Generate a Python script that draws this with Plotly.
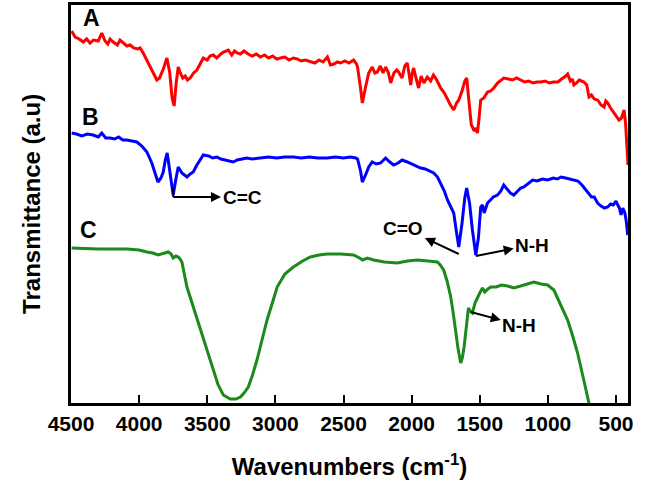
import plotly.graph_objects as go

# ---- data (wavenumber cm^-1, transmittance arbitrary units) ----
wn_A = [4495, 4470, 4440, 4410, 4385, 4360, 4335, 4300, 4274, 4250, 4230, 4213, 4190, 4160, 4140, 4110, 4090, 4066,
        4040, 4010, 3993, 3970, 3945, 3919, 3895, 3870, 3850, 3820, 3796, 3775, 3758, 3743, 3728, 3713, 3700, 3680,
        3662, 3645, 3625, 3600, 3576, 3550, 3529, 3500, 3480, 3456, 3430, 3400, 3380, 3346, 3320, 3300, 3280, 3257,
        3230, 3200, 3170, 3140, 3110, 3080, 3050, 3020, 2990, 2963, 2930, 2900, 2868, 2840, 2810, 2780, 2743, 2710,
        2680, 2650, 2618, 2596, 2570, 2545, 2522, 2490, 2460, 2426, 2405, 2397, 2375, 2362, 2338, 2315, 2289, 2270,
        2252, 2230, 2210, 2191, 2170, 2154, 2130, 2110, 2096, 2070, 2050, 2032, 2020, 2007, 1995, 1985, 1968, 1949,
        1930, 1910, 1885, 1860, 1840, 1824, 1805, 1787, 1760, 1737, 1715, 1691, 1670, 1654, 1630, 1610, 1596, 1578,
        1562, 1554, 1540, 1528, 1517, 1505, 1493, 1470, 1443, 1420, 1397, 1370, 1350, 1324, 1290, 1260, 1230, 1199,
        1170, 1140, 1110, 1080, 1051, 1020, 990, 960, 926, 900, 878, 855, 835, 820, 809, 790, 770, 735, 715, 698,
        680, 660, 635, 610, 588, 575, 561, 540, 515, 495, 478, 460, 441, 430, 426, 418, 412]
tr_A = [372, 366, 364, 361, 364, 360, 363, 362, 370, 362, 359, 364, 361, 358, 363, 359, 357, 358,
        355, 354, 355, 350, 343, 336, 330, 323, 325, 335, 345, 330, 305, 297, 320, 336, 331, 325,
        327, 323, 325, 330, 333, 340, 345, 343, 347, 348, 345, 349, 351, 353, 348, 352, 350, 349,
        352, 349, 347, 349, 346, 348, 345, 347, 344, 345, 346, 343, 345, 344, 342, 343, 341, 340,
        343, 341, 346, 338, 339, 341, 340, 342, 340, 343, 339, 336, 315, 300, 316, 330, 336, 330,
        331, 337, 330, 336, 330, 320, 330, 333, 331, 325, 337, 340, 330, 318, 330, 335, 325, 315,
        327, 320, 326, 322, 328, 325, 320, 315, 310, 303, 298, 293, 300, 303, 312, 322, 325, 300,
        278, 276, 272, 275, 270, 285, 303, 305, 311, 312, 315, 320, 322, 325, 324, 323, 325, 323,
        321, 322, 320, 321, 321, 322, 320, 321, 321, 324, 326, 329, 322, 324, 318, 320, 323, 321, 318, 306,
        308, 304, 303, 298, 296, 302, 300, 295, 290, 287, 283, 285, 293, 280, 270, 255, 238]

wn_B = [4495, 4460, 4420, 4380, 4338, 4300, 4274, 4245, 4213, 4180, 4150, 4120, 4090, 4050, 4017, 3980, 3943,
        3907, 3885, 3862, 3840, 3823, 3808, 3794, 3775, 3760, 3750, 3730, 3713, 3686, 3649, 3625, 3603, 3576,
        3550, 3529, 3490, 3460, 3429, 3400, 3370, 3340, 3309, 3280, 3250, 3210, 3170, 3110, 3050, 2990, 2930,
        2868, 2810, 2750, 2690, 2620, 2560, 2500, 2450, 2410, 2397, 2375, 2362, 2338, 2315, 2289, 2260, 2228,
        2210, 2191, 2160, 2132, 2100, 2070, 2032, 2000, 1970, 1934, 1900, 1870, 1838, 1810, 1787, 1760, 1737,
        1715, 1691, 1672, 1654, 1630, 1610, 1596, 1575, 1554, 1540, 1529, 1510, 1493, 1480, 1468, 1443, 1420,
        1400, 1370, 1345, 1324, 1300, 1275, 1250, 1225, 1200, 1176, 1150, 1112, 1080, 1040, 1002, 960, 930,
        904, 870, 840, 809, 780, 750, 720, 708, 680, 660, 635, 610, 585, 561, 540, 520, 500, 487, 475, 463,
        450, 435, 425, 414]
tr_B = [270, 269, 267, 269, 268, 266, 270, 265, 265, 264, 266, 263, 263, 262, 261, 257, 251,
        240, 230, 221, 225, 231, 243, 250, 232, 214, 208, 224, 236, 230, 226, 229, 231, 238,
        243, 248, 247, 245, 246, 244, 243, 242, 241, 243, 244, 245, 244, 245, 246, 245, 246,
        246, 245, 246, 245, 245, 246, 245, 246, 245, 244, 232, 221, 228, 236, 241, 239, 240,
        243, 245, 241, 238, 240, 243, 241, 239, 237, 235, 234, 232, 230, 226, 220, 212, 203,
        197, 190, 172, 156, 180, 205, 215, 200, 173, 160, 148, 165, 196, 198, 190, 200, 203,
        206, 208, 212, 218, 214, 210, 208, 212, 215, 216, 219, 223, 222, 224, 223, 225, 224,
        226, 225, 224, 223, 222, 218, 213, 210, 206, 206, 200, 197, 195, 196, 199, 198, 202, 198, 195, 188,
        195, 190, 182, 168]

wn_C = [4495, 4300, 4090, 4000, 3943, 3900, 3860, 3820, 3787, 3765, 3750, 3730, 3713, 3700, 3686, 3649, 3600,
        3551, 3500, 3456, 3420, 3382, 3350, 3331, 3290, 3257, 3230, 3199, 3170, 3135, 3100, 3061, 3020, 2987,
        2930, 2868, 2800, 2743, 2680, 2620, 2520, 2426, 2382, 2360, 2326, 2279, 2200, 2105, 2030, 1958, 1880,
        1811, 1790, 1765, 1740, 1713, 1695, 1676, 1660, 1640, 1628, 1615, 1600, 1583, 1570, 1554, 1535, 1517,
        1500, 1480, 1463, 1440, 1419, 1380, 1340, 1296, 1250, 1200, 1150, 1103, 1050, 1002, 956, 910, 855,
        820, 782, 740, 699, 600]
tr_C = [155, 154, 154, 153, 151, 150, 148, 150, 151, 149, 145, 147, 146, 144, 141, 116, 95,
        73, 52, 33, 18, 8, 5, 4, 4, 6, 10, 16, 27, 43, 62, 83, 101, 116,
        129, 136, 142, 146, 148, 149, 149, 148, 145, 143, 145, 143, 141, 140, 142, 143, 142,
        141, 138, 133, 122, 106, 90, 70, 55, 40, 45, 56, 78, 95, 92, 90, 100, 106,
        110, 115, 111, 114, 116, 116, 118, 117, 115, 117, 119, 121, 119, 118, 113, 100, 83,
        68, 50, 25, 0, -60]

labels = ["A", "B", "C"]
label_wn = [4353, 4360, 4375]
label_tr = [385, 286, 173]

x_ticks = [4500, 4000, 3500, 3000, 2500, 2000, 1500, 1000, 500]

fig = go.Figure()
for wn, tr, col in [(wn_A, tr_A, "#ff0000"), (wn_B, tr_B, "#0000ff"), (wn_C, tr_C, "#1a8a1a")]:
    fig.add_trace(go.Scatter(x=wn, y=tr, mode="lines", line=dict(color=col, width=3), showlegend=False))

font_main = "Liberation Sans, Arial, sans-serif"
ann = []
for t, xw, yv in zip(labels, label_wn, label_tr):
    ann.append(dict(x=xw, y=yv, text=t, showarrow=False,
                    font=dict(size=23, family=font_main, color="black", weight="bold")))


def band(x_peak, y_peak, x_text, y_text, t):
    # arrow starts at the band and ends (with head) at the label
    return dict(x=x_peak, y=y_peak, ax=x_text, ay=y_text, xref="x", yref="y", axref="x", ayref="y",
                text=t, showarrow=True, arrowside="start", startarrowhead=2, startarrowsize=1,
                arrowwidth=2, arrowcolor="black", startstandoff=0, standoff=0,
                font=dict(size=19, family=font_main, color="black", weight="bold"))


ann += [
    band(3750, 206, 3245, 206, "C=C"),
    band(1654, 149, 2060, 175, "C=O"),
    band(1529, 147, 1115, 158, "N-H"),
    band(1566, 91, 1210, 78, "N-H"),
]

# y-axis title placed as a rotated annotation
ann.append(dict(xref="paper", yref="paper", x=-0.072, y=0.5, text="Transmittance (a.u)", textangle=-90,
                showarrow=False, xanchor="center", yanchor="middle",
                font=dict(size=24, family=font_main, color="black", weight="bold")))

fig.add_shape(type="line", x0=3750, x1=3750, y0=215, y1=206, xref="x", yref="y",
              line=dict(color="black", width=2))

fig.update_layout(
    width=645, height=490,
    margin=dict(l=71, r=17, t=5, b=87),
    paper_bgcolor="white", plot_bgcolor="white",
    annotations=ann,
    font=dict(family=font_main, color="black"),
)
fig.update_xaxes(range=[4500, 412], tickvals=x_ticks, ticktext=[str(v) for v in x_ticks],
                 ticks="inside", ticklen=8, tickwidth=2, tickcolor="black",
                 showline=True, linecolor="black", linewidth=2.5, mirror=True, showgrid=False, zeroline=False,
                 tickfont=dict(size=21, family=font_main, weight="bold"), automargin=False,
                 title=dict(text="Wavenumbers (cm<sup>-1</sup>)", font=dict(size=24, family=font_main, weight="bold"),
                            standoff=25))
fig.update_yaxes(range=[0, 398], showticklabels=False, ticks="", automargin=False,
                 showline=True, linecolor="black", linewidth=2.5, mirror=True, showgrid=False, zeroline=False)

fig.write_html("out.html", config={"displayModeBar": False},
               post_script="document.body.style.margin='0';")
